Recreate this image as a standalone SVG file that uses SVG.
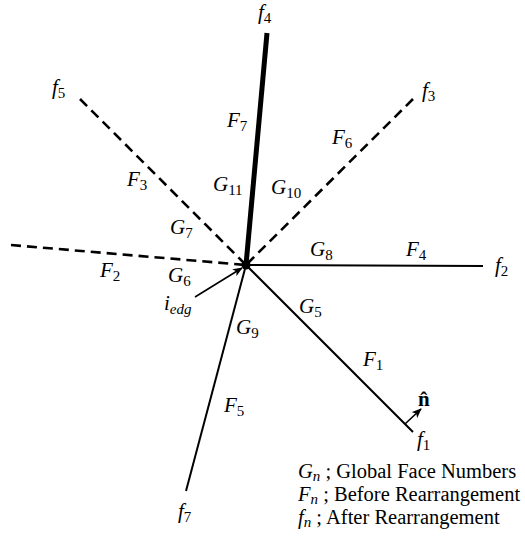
<svg xmlns="http://www.w3.org/2000/svg" width="525" height="545" viewBox="0 0 525 545">
<style>
.m{font-family:"Liberation Serif",serif;font-size:21px;font-style:italic;fill:#000}
.s{font-size:15px;font-style:normal}
.si{font-size:15px;font-style:italic}
.r{font-style:normal}
.lg{font-size:20.5px}
.solid{stroke:#000;stroke-width:2;fill:none}
.dash{stroke:#000;stroke-width:2.6;fill:none;stroke-dasharray:10 6}
.thick{stroke:#000;stroke-width:5;fill:none}
.arr{stroke:#000;stroke-width:1.6;fill:none;marker-end:url(#ah)}
</style>
<defs>
<marker id="ah" markerUnits="userSpaceOnUse" markerWidth="10" markerHeight="8" refX="9" refY="4" orient="auto">
<path d="M0,0 L10,4 L0,8 L2.5,4 Z" fill="#000"/>
</marker>
</defs>
<rect width="525" height="545" fill="#fff"/>
<g id="connectors">
<line class="thick" x1="267" y1="33" x2="246" y2="265"/>
<line class="dash" x1="80" y1="99" x2="246" y2="265"/>
<line class="dash" x1="413" y1="99" x2="246" y2="265"/>
<line class="dash" x1="11" y1="245" x2="246" y2="265"/>
<line class="solid" x1="246" y1="265" x2="483" y2="266"/>
<line class="solid" x1="246" y1="265" x2="413" y2="432"/>
<line class="solid" x1="246" y1="265" x2="186" y2="491"/>
<line class="arr" x1="195" y1="297" x2="242" y2="268"/>
<line class="arr" x1="405" y1="424" x2="421" y2="409"/>
</g>
<g id="center"><circle cx="246" cy="265" r="4.5" fill="#000"/></g>
<g id="labels">
<text class="m" x="258" y="19">f<tspan class="s" dy="4">4</tspan></text>
<text class="m" x="52" y="94">f<tspan class="s" dy="4">5</tspan></text>
<text class="m" x="422" y="97">f<tspan class="s" dy="4">3</tspan></text>
<text class="m" x="495" y="272">f<tspan class="s" dy="4">2</tspan></text>
<text class="m" x="417" y="446">f<tspan class="s" dy="4">1</tspan></text>
<text class="m" x="178" y="518">f<tspan class="s" dy="4">7</tspan></text>
<text class="m" x="227" y="127">F<tspan class="s" dy="4">7</tspan></text>
<text class="m" x="332" y="144">F<tspan class="s" dy="4">6</tspan></text>
<text class="m" x="127" y="186">F<tspan class="s" dy="4">3</tspan></text>
<text class="m" x="213" y="191">G<tspan class="s" dy="4">11</tspan></text>
<text class="m" x="271" y="194">G<tspan class="s" dy="4">10</tspan></text>
<text class="m" x="170" y="234">G<tspan class="s" dy="4">7</tspan></text>
<text class="m" x="310" y="256">G<tspan class="s" dy="4">8</tspan></text>
<text class="m" x="406" y="256">F<tspan class="s" dy="4">4</tspan></text>
<text class="m" x="100" y="277">F<tspan class="s" dy="4">2</tspan></text>
<text class="m" x="168" y="282">G<tspan class="s" dy="4">6</tspan></text>
<text class="m" x="164" y="310">i<tspan class="si" dy="4">edg</tspan></text>
<text class="m" x="299" y="313">G<tspan class="s" dy="4">5</tspan></text>
<text class="m" x="236" y="334">G<tspan class="s" dy="4">9</tspan></text>
<text class="m" x="363" y="366">F<tspan class="s" dy="4">1</tspan></text>
<text class="m" x="224" y="412">F<tspan class="s" dy="4">5</tspan></text>
<text class="m" x="418" y="406" style="font-style:normal;font-weight:bold">n̂</text>
</g>
<g id="legend">
<text class="m lg" x="298" y="478">G<tspan class="si" dy="3">n</tspan><tspan class="r" dy="-3"> ; Global Face Numbers</tspan></text>
<text class="m lg" x="298" y="501">F<tspan class="si" dy="3">n</tspan><tspan class="r" dy="-3"> ; Before Rearrangement</tspan></text>
<text class="m lg" x="298" y="524">f<tspan class="si" dy="3">n</tspan><tspan class="r" dy="-3"> ; After Rearrangement</tspan></text>
</g>
</svg>
